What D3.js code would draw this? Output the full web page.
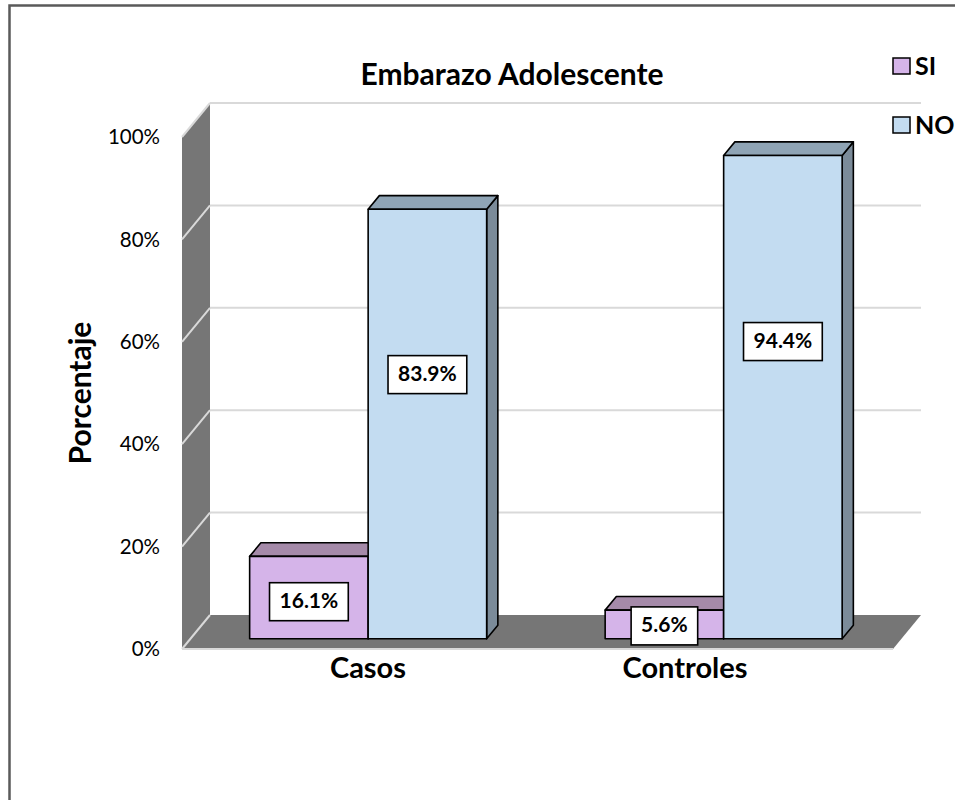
<!DOCTYPE html>
<html>
<head>
<meta charset="utf-8">
<script src="https://cdn.jsdelivr.net/npm/d3@7"></script>
<style>
  html, body { margin: 0; padding: 0; background: #fff; }
  svg { display: block; font-family: Lato, "Open Sans", sans-serif; }
</style>
</head>
<body>
<svg id="chart" width="955" height="800"></svg>
<script>
// Chart data
const categories = ["Casos", "Controles"];
const seriesNames = ["SI", "NO"];
const siValues = [16.1, 5.6];
const noValues = [83.9, 94.4];
const tickValues = [0, 20, 40, 60, 80, 100];
const titleText = "Embarazo Adolescente";
const yAxisTitle = "Porcentaje";

const seriesValues = { SI: siValues, NO: noValues };

// Face colours for each series (front, top, side)
const palette = {
  SI: { front: "#d5b4e9", top: "#a58aa9", side: "#8d7694" },
  NO: { front: "#c3dcf1", top: "#8fa4b5", side: "#7b8b99" }
};

const svg = d3.select("#chart");

// 3D box geometry: front plane floor edge and depth offset
const frontLeft = 182, frontRight = 893, floorY = 649;
const depthX = 28, depthY = -34;
const barDepth0 = 0.3, barDepth1 = 0.7;

const h = d3.scaleLinear().domain([0, 100]).range([0, 512]);
const xCat = d3.scaleBand().domain(categories).range([frontLeft, frontRight]).padding(0);
const xSer = d3.scaleBand().domain(seriesNames).range([0, xCat.bandwidth()])
  .paddingInner(0).paddingOuter(0.5);

// project (x on front axis, value, depth fraction) to screen
function P(x, v, d) {
  return [x + d * depthX, floorY - h(v) + d * depthY];
}
const line = pts => "M" + pts.map(p => p.join(",")).join("L") + "Z";

// Outer frame
svg.append("rect")
  .attr("x", 9.5).attr("y", 5.5).attr("width", 1000).attr("height", 900)
  .attr("fill", "none").attr("stroke", "#5a5a5a").attr("stroke-width", 2.5);

// Left side wall
svg.append("path")
  .attr("d", line([P(frontLeft, 0, 0), P(frontLeft, 100, 0), P(frontLeft, 100, 1), P(frontLeft, 0, 1)]))
  .attr("fill", "#767676");

// Floor
svg.append("path")
  .attr("d", line([P(frontLeft, 0, 0), P(frontRight, 0, 0), P(frontRight, 0, 1), P(frontLeft, 0, 1)]))
  .attr("fill", "#767676");

// Gridlines on side wall and back wall
const grid = svg.append("g").attr("stroke", "#d9d9d9").attr("stroke-width", 2).attr("fill", "none");
tickValues.forEach(v => {
  const a = P(frontLeft, v, 0), b = P(frontLeft, v, 1), c = P(frontRight, v, 1);
  grid.append("path").attr("d", `M${a}L${b}`);
  if (v > 0) grid.append("path").attr("d", `M${b}L${c}`);
});
// Floor front edge highlight
grid.append("path").attr("d", `M${P(frontLeft, 0, 0)}L${P(frontRight, 0, 0)}`);

// Y tick labels
svg.append("g").selectAll("text").data(tickValues).join("text")
  .attr("x", 160)
  .attr("y", d => P(frontLeft, d, 0)[1] + 2)
  .attr("text-anchor", "end")
  .attr("dominant-baseline", "middle")
  .attr("font-size", 20.5)
  .attr("fill", "#000")
  .text(d => d + "%");

// Bars
const bars = svg.append("g").attr("stroke", "#000").attr("stroke-width", 1.6).attr("stroke-linejoin", "round");
categories.forEach((cat, ci) => {
  seriesNames.forEach(s => {
    const v = seriesValues[s][ci];
    const x0 = xCat(cat) + xSer(s), x1 = x0 + xSer.bandwidth();
    const c = palette[s];
    // side face
    bars.append("path").attr("fill", c.side)
      .attr("d", line([P(x1, 0, barDepth0), P(x1, v, barDepth0), P(x1, v, barDepth1), P(x1, 0, barDepth1)]));
    // top face
    bars.append("path").attr("fill", c.top)
      .attr("d", line([P(x0, v, barDepth0), P(x1, v, barDepth0), P(x1, v, barDepth1), P(x0, v, barDepth1)]));
    // front face
    bars.append("path").attr("fill", c.front)
      .attr("d", line([P(x0, 0, barDepth0), P(x1, 0, barDepth0), P(x1, v, barDepth0), P(x0, v, barDepth0)]));
  });
});

// Value labels in boxes
const labelLift = { SI: 0.45, NO: 0.615 };
const labels = svg.append("g");
categories.forEach((cat, ci) => {
  seriesNames.forEach(s => {
    const v = seriesValues[s][ci];
    const xc = xCat(cat) + xSer(s) + xSer.bandwidth() / 2;
    const [px, py] = P(xc, v * labelLift[s], barDepth0);
    const txt = v.toFixed(1) + "%";
    const t = labels.append("text")
      .attr("x", px).attr("y", py + 1)
      .attr("text-anchor", "middle")
      .attr("dominant-baseline", "middle")
      .attr("font-size", 21).attr("font-weight", 700)
      .attr("fill", "#000")
      .text(txt);
    const bb = t.node().getBBox();
    labels.insert("rect", () => t.node())
      .attr("x", px - (bb.width + 20) / 2).attr("y", py - 19)
      .attr("width", bb.width + 20).attr("height", 38)
      .attr("fill", "#fff").attr("stroke", "#000").attr("stroke-width", 1.6);
  });
});

// Category labels
const xLabel = d3.scalePoint().domain(categories).range([368, 685]);
svg.append("g").selectAll("text").data(categories).join("text")
  .attr("x", d => xLabel(d)).attr("y", 678)
  .attr("text-anchor", "middle")
  .attr("font-size", 29).attr("font-weight", 700)
  .text(d => d);

// Title
svg.append("text")
  .attr("x", 512).attr("y", 85)
  .attr("text-anchor", "middle")
  .attr("font-size", 30).attr("font-weight", 700)
  .text(titleText);

// Y axis title
svg.append("text")
  .attr("transform", "translate(91,393) rotate(-90)")
  .attr("text-anchor", "middle")
  .attr("font-size", 30).attr("font-weight", 700)
  .text(yAxisTitle);

// Legend
const legend = svg.append("g").selectAll("g").data(seriesNames).join("g")
  .attr("transform", (d, i) => `translate(893,${58 + i * 59})`);
legend.append("rect")
  .attr("width", 17).attr("height", 16)
  .attr("fill", d => palette[d].front)
  .attr("stroke", "#000").attr("stroke-width", 1.5);
legend.append("text")
  .attr("x", 22).attr("y", 17)
  .attr("font-size", 25).attr("font-weight", 700)
  .text(d => d);
</script>
</body>
</html>
